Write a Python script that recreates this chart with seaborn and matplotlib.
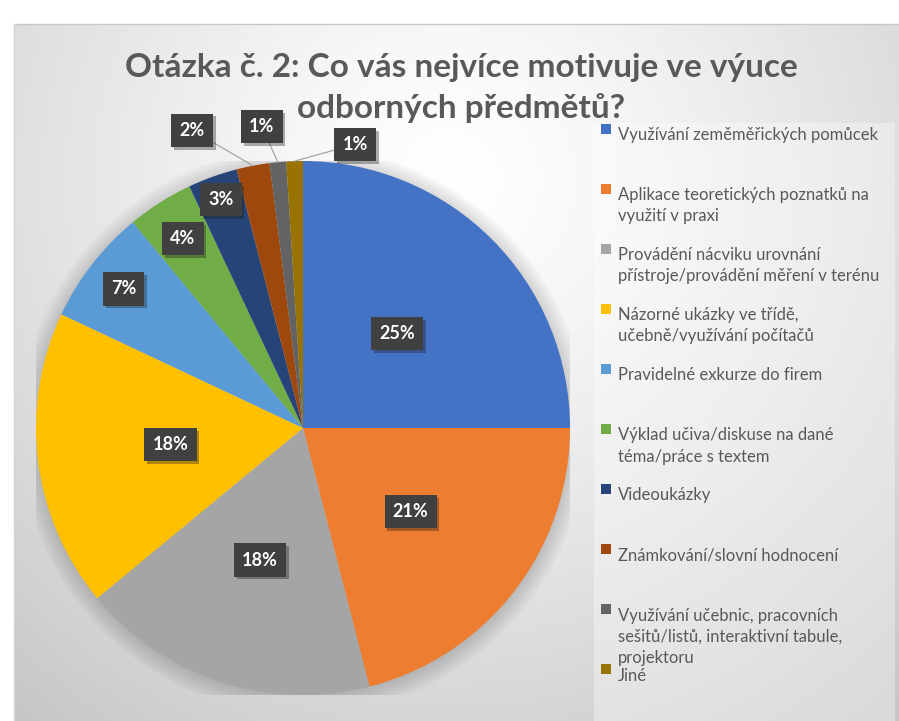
import numpy as np
import matplotlib
matplotlib.use('Agg')
import matplotlib.pyplot as plt
import matplotlib.patheffects as pe
import seaborn as sns
from matplotlib.patches import Rectangle, Circle, Wedge
from matplotlib.legend_handler import HandlerPatch

categories = [
    'Využívání zeměměřických pomůcek',
    'Aplikace teoretických poznatků na\nvyužití v praxi',
    'Provádění nácviku urovnání\npřístroje/provádění měření v terénu',
    'Názorné ukázky ve třídě,\nučebně/využívání počítačů',
    'Pravidelné exkurze do firem',
    'Výklad učiva/diskuse na dané\ntéma/práce s textem',
    'Videoukázky',
    'Známkování/slovní hodnocení',
    'Využívání učebnic, pracovních\nsešitů/listů, interaktivní tabule,\nprojektoru',
    'Jiné',
]
shares = [25, 21, 18, 18, 7, 4, 3, 2, 1, 1]
pct_labels = [f'{v}%' for v in shares]
colors = ['#4472C4', '#ED7D31', '#A5A5A5', '#FFC000', '#5B9BD5',
          '#70AD47', '#264478', '#9E480E', '#636363', '#997300']
title_lines = ['Otázka č. 2: Co vás nejvíce motivuje ve výuce', 'odborných předmětů?']

# where each percentage box sits: (radius, angle shift in degrees)
label_place = [(0.50, 0), (0.51, 0), (0.52, 0), (0.50, 0), (0.85, 0),
               (0.84, 0), (0.91, 0), (1.19, 9.6), (1.14, 2.4), (1.08, -12.2)]

sns.set_theme(style='white')
plt.rcParams['font.family'] = ['Lato', 'DejaVu Sans']

W, H = 899, 721
fig = plt.figure(figsize=(W / 100, H / 100), dpi=100)

# grey radial background of the chart area
bg = fig.add_axes([0, 0, 1, 1], zorder=-10)
yy, xx = np.mgrid[0:H, 0:W]
d = np.hypot(xx - 450, yy - 180)
g = 1 - (58 / 255) * (d / 700) ** 1.3
img = np.dstack([g, g, g])
img[(xx < 14) | (yy < 24)] = 1
bg.imshow(img, extent=(0, W, H, 0), interpolation='bilinear', aspect='auto')
bg.plot([14, W], [24, 24], color='#c8c8c8', lw=1)
bg.plot([14, 14], [24, H], color='#d4d4d4', lw=1)
bg.add_patch(Rectangle((594, 123), 301, 598, fc='white', ec='none', alpha=0.35))
bg.set_xlim(0, W)
bg.set_ylim(H, 0)
bg.axis('off')

ax = fig.add_axes([36 / W, 26 / H, 534 / W, 534 / H])
for k in range(8):
    ax.add_patch(Circle((0, -0.01), 1.0 + 0.009 * k, color='k', alpha=0.025, lw=0, zorder=0))
wedges, _ = ax.pie(shares, colors=colors, startangle=90, counterclock=False,
                   wedgeprops=dict(linewidth=0, zorder=2))
ax.set_xlim(-1, 1)
ax.set_ylim(-1, 1)

box = dict(boxstyle='square,pad=0.45', fc='#404040', ec='none')
shadow = [pe.SimplePatchShadow(offset=(2, -2), shadow_rgbFace='k', alpha=0.35), pe.Normal()]
for w, txt, (r, dth) in zip(wedges, pct_labels, label_place):
    mid = (w.theta1 + w.theta2) / 2
    a = np.deg2rad(mid + dth)
    pos = (r * np.cos(a), r * np.sin(a))
    kw = dict(ha='center', va='center', color='white', fontsize=13,
              fontweight='bold', bbox=box, zorder=5)
    if r > 1:
        m = np.deg2rad(mid)
        t = ax.annotate(txt, xy=(np.cos(m), np.sin(m)), xytext=pos,
                        arrowprops=dict(arrowstyle='-', color='#a6a6a6', lw=0.9,
                                        shrinkA=0, shrinkB=0), **kw)
    else:
        t = ax.text(pos[0], pos[1], txt, **kw)
    t.get_bbox_patch().set_path_effects(shadow)


def top_square(legend, orig_handle, xdescent, ydescent, width, height, fontsize):
    s = 0.58 * fontsize
    return Rectangle((-xdescent, 1.75 * fontsize), s, s)


# pad every label to three lines so each legend row gets the same height
legend_labels = [c + '\n' * (2 - c.count('\n')) for c in categories]
leg = fig.legend(wedges, legend_labels, loc='upper left',
                 bbox_to_anchor=(586 / W, 1 - 112 / H), fontsize=12,
                 handlelength=0.6, handletextpad=0.4, labelspacing=0.1,
                 frameon=False, borderpad=0.4, labelcolor='#595959',
                 handler_map={Wedge: HandlerPatch(patch_func=top_square)})
for t in leg.get_texts():
    t.set_linespacing(1.4)

for i, line in enumerate(title_lines):
    fig.text(461 / W, 1 - (67 + 41 * i) / H, line, ha='center', va='center',
             fontsize=24, fontweight='bold', color='#595959')

fig.savefig('out.png', dpi=100)
